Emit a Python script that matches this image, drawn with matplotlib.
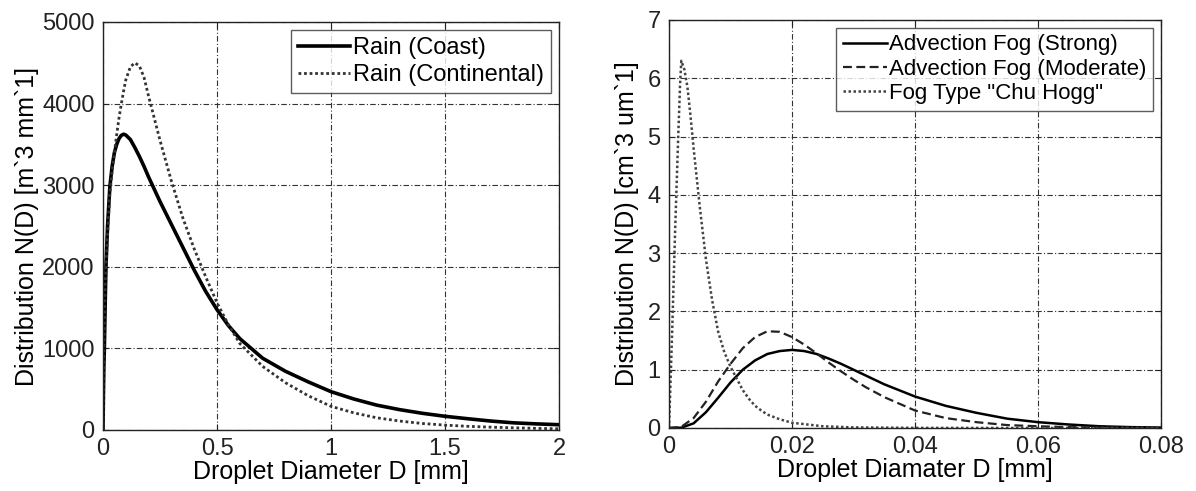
import matplotlib
matplotlib.use("Agg")
import matplotlib.pyplot as plt

plt.rcParams['font.family'] = ['Liberation Sans', 'DejaVu Sans']

# ---------------- Left panel: rain drop size distributions ----------------
rain_D = [0, 0.002, 0.004, 0.006, 0.01, 0.013, 0.02, 0.03, 0.04, 0.05, 0.06,
          0.07, 0.08, 0.09, 0.1, 0.12, 0.14, 0.16, 0.18, 0.2, 0.25, 0.3, 0.35,
          0.4, 0.45, 0.5, 0.55, 0.6, 0.7, 0.8, 0.9, 1.0, 1.1, 1.2, 1.3, 1.4,
          1.5, 1.6, 1.7, 1.8, 1.9, 2.0]
rain_coast = [0, 450, 800, 1000, 1600, 2000, 2500, 2980, 3230, 3400, 3500,
              3570, 3610, 3625, 3615, 3560, 3460, 3350, 3230, 3100, 2800, 2520,
              2240, 1960, 1700, 1475, 1280, 1120, 880, 720, 590, 470, 380, 305,
              250, 205, 168, 138, 110, 88, 75, 65]
rain_continental = [0, 600, 1000, 1300, 1800, 2000, 2400, 2900, 3170, 3400, 3620,
                    3820, 3990, 4150, 4290, 4450, 4500, 4460, 4320, 4090, 3550, 3050,
                    2600, 2220, 1880, 1560, 1290, 1060, 780, 580, 420, 290, 210, 150,
                    110, 80, 60, 45, 35, 27, 20, 15]

# ---------------- Right panel: fog drop size distributions ----------------
fog_D = [0, 0.002, 0.004, 0.006, 0.008, 0.010, 0.012, 0.014, 0.016, 0.018,
         0.020, 0.022, 0.024, 0.026, 0.028, 0.030, 0.032, 0.035, 0.040, 0.045,
         0.050, 0.055, 0.060, 0.065, 0.070, 0.075, 0.080]
fog_strong = [0, 0.005, 0.08, 0.27, 0.52, 0.78, 1.0, 1.16, 1.27, 1.32,
              1.34, 1.32, 1.27, 1.19, 1.10, 1.0, 0.90, 0.75, 0.54, 0.38,
              0.26, 0.16, 0.10, 0.06, 0.03, 0.015, 0.008]
fog_moderate = [0, 0.02, 0.17, 0.45, 0.80, 1.10, 1.37, 1.56, 1.66, 1.65,
                1.56, 1.43, 1.28, 1.12, 0.97, 0.83, 0.70, 0.53, 0.30, 0.17,
                0.10, 0.05, 0.03, 0.015, 0.008, 0.004, 0.002]

chu_D = [0, 0.0005, 0.001, 0.0015, 0.0018, 0.002, 0.0025, 0.003, 0.0035,
         0.004, 0.0045, 0.005, 0.006, 0.007, 0.008, 0.009, 0.010, 0.011,
         0.012, 0.013, 0.014, 0.015, 0.016, 0.018, 0.020, 0.025, 0.030,
         0.040, 0.060, 0.080]
chu_hogg = [0, 1.6, 3.4, 5.0, 5.9, 6.3, 6.15, 5.85, 5.35,
            4.8, 4.3, 3.8, 2.9, 2.2, 1.65, 1.3, 1.05, 0.85,
            0.65, 0.5, 0.38, 0.3, 0.23, 0.15, 0.09, 0.03, 0.01,
            0.002, 0, 0]

left_xticks = [0, 0.5, 1, 1.5, 2]
left_xticklabels = ['0', '0.5', '1', '1.5', '2']
left_yticks = [0, 1000, 2000, 3000, 4000, 5000]
right_xticks = [0, 0.02, 0.04, 0.06, 0.08]
right_xticklabels = ['0', '0.02', '0.04', '0.06', '0.08']
right_yticks = [0, 1, 2, 3, 4, 5, 6, 7]

fig = plt.figure(figsize=(11.96, 4.91), dpi=100)
W, H = 1196, 491
axL = fig.add_axes([103 / W, 1 - 430 / H, (559 - 103) / W, (430 - 22) / H])
axR = fig.add_axes([669 / W, 1 - 428 / H, (1161 - 669) / W, (428 - 20) / H])

grid_style = dict(color='#333333', linestyle=(0, (5, 2, 1, 2)), linewidth=0.8)
TICK_FS = 17
LABEL_FS = 18
LEG_FS = 17

def style(ax):
    for s in ax.spines.values():
        s.set_linewidth(1.0)
        s.set_color('#222222')
    ax.tick_params(direction='in', length=4, top=True, right=True,
                   labelsize=TICK_FS, colors='#222222', pad=6)
    ax.grid(True, **grid_style)
    ax.set_axisbelow(True)

# Left
axL.plot(rain_D, rain_coast, color='black', lw=2.6, label='Rain (Coast)')
axL.plot(rain_D, rain_continental, color='#333333', lw=2.0, linestyle=(0, (1, 1)),
         label='Rain (Continental)')
axL.set_xlim(0, 2)
axL.set_ylim(0, 5000)
axL.set_xticks(left_xticks)
axL.set_xticklabels(left_xticklabels)
axL.set_yticks(left_yticks)
style(axL)
axL.set_xlabel('Droplet Diameter D [mm]', fontsize=LABEL_FS, labelpad=0)
axL.set_ylabel('Distribution N(D) [m`3 mm`1]', fontsize=LABEL_FS, labelpad=2)
legL = axL.legend(loc='upper right', fontsize=LEG_FS, frameon=True, fancybox=False,
                  edgecolor='#333333', handlelength=2.2, handletextpad=0.1,
                  borderaxespad=0.35, labelspacing=0.2, borderpad=0.3)
legL.get_frame().set_linewidth(1.0)

# Right
axR.plot(fog_D, fog_strong, color='black', lw=1.8, label='Advection Fog (Strong)')
axR.plot(fog_D, fog_moderate, color='#222222', lw=1.6, linestyle=(0, (4, 2)),
         label='Advection Fog (Moderate)')
axR.plot(chu_D, chu_hogg, color='#444444', lw=1.8, linestyle=(0, (1, 1)),
         label='Fog Type "Chu Hogg"')
axR.set_xlim(0, 0.08)
axR.set_ylim(0, 7)
axR.set_xticks(right_xticks)
axR.set_xticklabels(right_xticklabels)
axR.set_yticks(right_yticks)
style(axR)
axR.set_xlabel('Droplet Diamater D [mm]', fontsize=LABEL_FS, labelpad=0)
axR.set_ylabel('Distribution N(D) [cm`3 um`1]', fontsize=LABEL_FS, labelpad=6)
legR = axR.legend(loc='upper right', fontsize=16, frameon=True, fancybox=False,
                  edgecolor='#333333', handlelength=2.0, handletextpad=0.1,
                  borderaxespad=0.35, labelspacing=0.15, borderpad=0.3)
legR.get_frame().set_linewidth(1.0)

fig.savefig('out.png', dpi=100, facecolor='white')
